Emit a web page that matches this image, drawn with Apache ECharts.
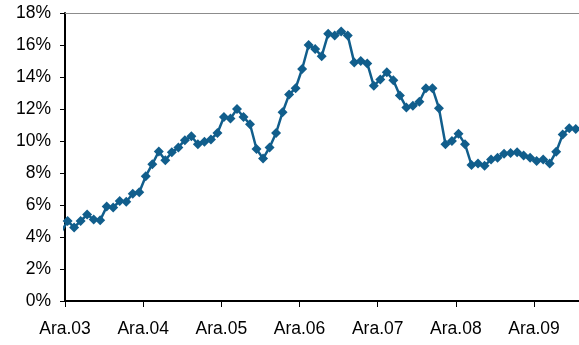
<!DOCTYPE html>
<html>
<head>
<meta charset="utf-8">
<script src="https://cdn.jsdelivr.net/npm/echarts@6/dist/echarts.min.js"></script>
<style>
html, body { margin: 0; padding: 0; background: #fff; }
#chart { width: 579px; height: 345px; }
</style>
</head>
<body>
<div id="chart"></div>
<script>
// yearly tick labels (every 12 months, December)
var yearLabels = ['Ara.03', 'Ara.04', 'Ara.05', 'Ara.06', 'Ara.07', 'Ara.08', 'Ara.09'];
var yearTicks = [0, 12, 24, 36, 48, 60, 72];

// monthly values in %, first value is the month before Ara.03
var rateValues = [
	4.3, 5.0, 4.6, 5.0, 5.4, 5.1, 5.05, 5.9, 5.85, 6.25, 6.2, 6.7,
	6.8, 7.8, 8.55, 9.35, 8.8, 9.3, 9.6, 10.05, 10.3, 9.8, 9.95, 10.1,
	10.5, 11.5, 11.4, 12.0, 11.5, 11.05, 9.5, 8.9, 9.6, 10.5, 11.8, 12.9,
	13.3, 14.5, 16.0, 15.75, 15.3, 16.7, 16.6, 16.85, 16.6, 14.9, 15.0, 14.85,
	13.45, 13.85, 14.3, 13.8, 12.85, 12.1, 12.2, 12.45, 13.3, 13.3, 12.05, 9.8,
	10.0, 10.45, 9.8, 8.5, 8.6, 8.45, 8.85, 8.95, 9.2, 9.25, 9.3, 9.1,
	8.95, 8.75, 8.85, 8.6, 9.33, 10.4, 10.8, 10.75, 10.8
];

var monthOffset = -0.6; // first point sits a little left of the Ara.03 tick
var xMax = 78.9;        // months visible up to the right edge

var lineColor = '#115E8C';
var fontFamily = '"Liberation Sans", Arial, sans-serif';

var seriesData = [];
for (var i = 0; i < rateValues.length; i++) {
	var pt = { value: [i + monthOffset, rateValues[i]] };
	if (i == 0) {
		pt.symbol = 'none';
	}
	seriesData.push(pt);
}

var chart = echarts.init(document.getElementById('chart'), null, { renderer: 'canvas' });

var option = {
	animation: false,
	grid: {
		left: 65,
		top: 13,
		right: 0,
		height: 288
	},
	xAxis: [{
		type: 'value',
		min: 0,
		max: xMax,
		axisLine: { show: true, onZero: false, lineStyle: { color: '#000', width: 2 } },
		axisTick: { show: true, length: 6, customValues: yearTicks, lineStyle: { color: '#000', width: 1 } },
		axisLabel: {
			margin: 19,
			color: '#000',
			fontSize: 17.5,
			fontFamily: fontFamily,
			customValues: yearTicks,
			formatter: function (v) {
				return yearLabels[Math.round(v / 12)] || '';
			}
		},
		splitLine: { show: false }
	}, {
		type: 'value',
		position: 'top',
		min: 0,
		max: xMax,
		axisLine: { show: true, onZero: false, lineStyle: { color: '#8c8c8c', width: 1 } },
		axisTick: { show: false },
		axisLabel: { show: false },
		splitLine: { show: false }
	}],
	yAxis: {
		type: 'value',
		min: 0,
		max: 18,
		interval: 2,
		axisLine: { show: true, lineStyle: { color: '#000', width: 2 } },
		axisTick: { show: true, length: 5, lineStyle: { color: '#000', width: 1 } },
		axisLabel: {
			margin: 14,
			color: '#000',
			fontSize: 17.5,
			fontFamily: fontFamily,
			formatter: '{value}%'
		},
		splitLine: { show: false }
	},
	series: [{
		type: 'line',
		xAxisIndex: 0,
		data: seriesData,
		clip: false,
		symbol: 'diamond',
		symbolSize: 10,
		showAllSymbol: true,
		lineStyle: { color: lineColor, width: 2.5 },
		itemStyle: { color: lineColor }
	}]
};

chart.setOption(option);
</script>
</body>
</html>
